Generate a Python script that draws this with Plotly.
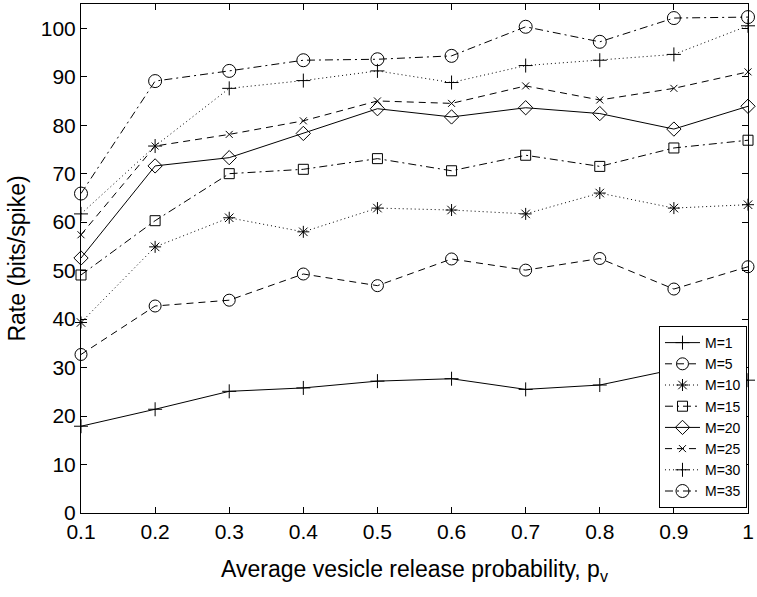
import plotly.graph_objects as go

p_v = [0.1, 0.2, 0.3, 0.4, 0.5, 0.6, 0.7, 0.8, 0.9, 1.0]

m1 = [17.9, 21.4, 25.1, 25.8, 27.2, 27.7, 25.5, 26.4, 29.6, 27.4]
m5 = [32.7, 42.7, 43.9, 49.3, 46.9, 52.4, 50.1, 52.5, 46.2, 50.8]
m10 = [39.3, 54.9, 60.9, 58.0, 62.9, 62.5, 61.7, 66.0, 62.9, 63.6]
m15 = [49.1, 60.3, 70.0, 70.9, 73.1, 70.6, 73.8, 71.5, 75.3, 76.9]
m20 = [52.6, 71.6, 73.3, 78.3, 83.4, 81.7, 83.6, 82.4, 79.2, 83.9]
m25 = [57.4, 75.7, 78.1, 80.9, 85.0, 84.5, 88.1, 85.2, 87.6, 91.0]
m30 = [61.7, 75.7, 87.6, 89.2, 91.2, 88.8, 92.3, 93.4, 94.6, 100.5]
m35 = [65.9, 89.1, 91.2, 93.4, 93.6, 94.3, 100.3, 97.2, 102.1, 102.3]

names = ["M=1", "M=5", "M=10", "M=15", "M=20", "M=25", "M=30", "M=35"]
series = [m1, m5, m10, m15, m20, m25, m30, m35]

x_ticks = [0.1, 0.2, 0.3, 0.4, 0.5, 0.6, 0.7, 0.8, 0.9, 1.0]
x_ticktext = ["0.1", "0.2", "0.3", "0.4", "0.5", "0.6", "0.7", "0.8", "0.9", "1"]
y_ticks = [0, 10, 20, 30, 40, 50, 60, 70, 80, 90, 100]

solid = "solid"
dashed = "7px,5px"
dotted = "1px,3px"
dashdot = "8px,4px,2px,4px"

styles = [
    (solid, "cross-thin-open", 10),
    (dashed, "circle-open", 12),
    (dotted, "asterisk-open", 10),
    (dashdot, "square-open", 10),
    (solid, "diamond-open", 11),
    (dashed, "x-thin-open", 7),
    (dotted, "cross-thin-open", 10),
    (dashdot, "circle-open", 13),
]

fig = go.Figure()
for name, ys, (dash, sym, size) in zip(names, series, styles):
    fig.add_trace(go.Scatter(
        x=p_v, y=ys, name=name, mode="lines+markers",
        line=dict(color="black", width=1, dash=dash),
        marker=dict(symbol=sym, size=size, color="black",
                    line=dict(color="black", width=1)),
        cliponaxis=False,
    ))

font_family = "Liberation Sans, Arial, Helvetica, sans-serif"

fig.update_layout(
    width=757, height=597,
    margin=dict(l=81, r=5, t=3, b=84),
    plot_bgcolor="white", paper_bgcolor="white",
    font=dict(family=font_family, color="black", size=21),
    showlegend=True,
    legend=dict(
        x=0.9985, y=0.0098, xanchor="right", yanchor="bottom",
        bgcolor="white", bordercolor="black", borderwidth=1,
        font=dict(size=14, family=font_family, color="black"),
        itemwidth=35, tracegroupgap=0,
    ),
)

fig.update_xaxes(
    range=[0.1, 1.0], tickvals=x_ticks, ticktext=x_ticktext,
    showline=True, linecolor="black", linewidth=1, mirror="ticks",
    ticks="inside", ticklen=6, tickcolor="black",
    showgrid=False, zeroline=False,
    tickfont=dict(size=21), ticklabeloverflow="allow",
    title=dict(text="Average vesicle release probability, p<sub>v</sub>",
               font=dict(size=23), standoff=18),
)
fig.update_yaxes(
    range=[0, 105], tickvals=y_ticks,
    showline=True, linecolor="black", linewidth=1, mirror="ticks",
    ticks="inside", ticklen=6, tickcolor="black",
    showgrid=False, zeroline=False,
    tickfont=dict(size=21),
    title=dict(text="Rate (bits/spike)", font=dict(size=23), standoff=8),
)

fig.write_html("out.html")
